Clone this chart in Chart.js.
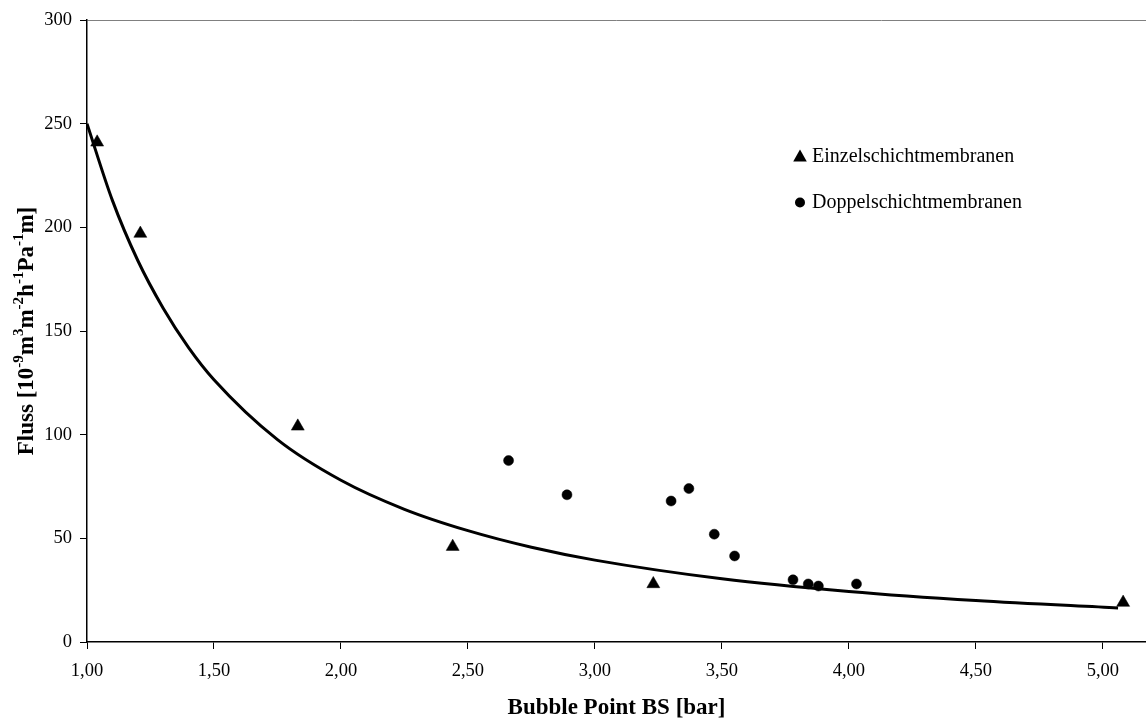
<!DOCTYPE html>
<html>
<head>
<meta charset="utf-8">
<script src="https://cdn.jsdelivr.net/npm/chart.js@4/dist/chart.umd.min.js"></script>
<style>
  html, body { margin: 0; padding: 0; background: #ffffff; }
  #wrap { width: 1146px; height: 720px; }
</style>
</head>
<body>
<div id="wrap"><canvas id="c" width="1146" height="720"></canvas></div>
<script>
// Measured flux against bubble point
const seriesNames = ['Einzelschichtmembranen', 'Doppelschichtmembranen'];

const einzelX = [1.04, 1.21, 1.83, 2.44, 3.23, 5.08];
const einzelY = [241, 197, 104, 46, 28, 19];

const doppelX = [2.66, 2.89, 3.30, 3.37, 3.47, 3.55, 3.78, 3.84, 3.88, 4.03];
const doppelY = [87.5, 71, 68, 74, 52, 41.5, 30, 28, 27, 28];

// Power-law trend curve through all membranes
const trendX = [1.00, 1.10, 1.20, 1.30, 1.40, 1.50, 1.75, 2.00, 2.25, 2.50, 2.75, 3.00, 3.50, 4.00, 4.50, 5.06];
const trendY = [250, 213, 184, 161, 142, 126.5, 97.6, 78, 64, 53.7, 45.7, 39.5, 30.5, 24.4, 20.0, 16.4];

const xTicks = [1.0, 1.5, 2.0, 2.5, 3.0, 3.5, 4.0, 4.5, 5.0];
const yTicks = [0, 50, 100, 150, 200, 250, 300];

const xTitle = 'Bubble Point BS [bar]';
// y title pieces: [text, isSuperscript]
const yTitleParts = [
  ['Fluss [10', false], ['-9', true], ['m', false], ['3', true],
  ['m', false], ['-2', true], ['h', false], ['-1', true],
  ['Pa', false], ['-1', true], ['m]', false]
];

const SERIF = '"Liberation Serif", "Times New Roman", serif';

const toPts = (xs, ys) => xs.map((x, i) => ({ x: x, y: ys[i] }));

// Legend inside the plot and the y-axis title with superscripts
const decorations = {
  id: 'decorations',
  afterDraw(chart) {
    const ctx = chart.ctx;
    const area = chart.chartArea;
    ctx.save();

    // legend
    ctx.fillStyle = '#000';
    ctx.font = '20px ' + SERIF;
    ctx.textBaseline = 'middle';
    ctx.textAlign = 'left';
    const lx = 800, ly1 = 156, ly2 = 202.5;
    ctx.beginPath();
    ctx.moveTo(lx, ly1 - 6.5);
    ctx.lineTo(lx + 6.8, ly1 + 5.5);
    ctx.lineTo(lx - 6.8, ly1 + 5.5);
    ctx.closePath();
    ctx.fill();
    ctx.fillText(seriesNames[0], lx + 12, ly1 + 1);
    ctx.beginPath();
    ctx.arc(lx, ly2, 5, 0, Math.PI * 2);
    ctx.fill();
    ctx.fillText(seriesNames[1], lx + 12, ly2 + 0.5);

    // y axis title
    const baseFont = 'bold 23px ' + SERIF;
    const supFont = 'bold 15px ' + SERIF;
    let total = 0;
    yTitleParts.forEach(([t, sup]) => {
      ctx.font = sup ? supFont : baseFont;
      total += ctx.measureText(t).width;
    });
    ctx.translate(33, (area.top + area.bottom) / 2);
    ctx.rotate(-Math.PI / 2);
    ctx.textBaseline = 'alphabetic';
    let pos = -total / 2;
    yTitleParts.forEach(([t, sup]) => {
      ctx.font = sup ? supFont : baseFont;
      ctx.fillText(t, pos, sup ? -10 : 0);
      pos += ctx.measureText(t).width;
    });
    ctx.restore();
  }
};

new Chart(document.getElementById('c'), {
  type: 'scatter',
  data: {
    datasets: [
      {
        label: seriesNames[0],
        data: toPts(einzelX, einzelY),
        pointStyle: 'triangle',
        pointRadius: 7.5,
        backgroundColor: '#000',
        borderColor: '#000',
        borderWidth: 0.5,
        order: 0
      },
      {
        label: seriesNames[1],
        data: toPts(doppelX, doppelY),
        pointStyle: 'circle',
        pointRadius: 5,
        backgroundColor: '#000',
        borderColor: '#000',
        borderWidth: 0.5,
        order: 0
      },
      {
        label: 'Trend',
        data: toPts(trendX, trendY),
        showLine: true,
        cubicInterpolationMode: 'monotone',
        borderColor: '#000',
        borderWidth: 3,
        pointRadius: 0,
        pointHoverRadius: 0,
        fill: false,
        order: 1
      }
    ]
  },
  options: {
    responsive: false,
    animation: false,
    devicePixelRatio: 1,
    layout: { autoPadding: false, padding: { top: 20, left: 0, right: 0, bottom: 0 } },
    plugins: {
      legend: { display: false },
      tooltip: { enabled: false }
    },
    scales: {
      x: {
        type: 'linear',
        min: 1.0,
        max: 5.17,
        afterBuildTicks: s => { s.ticks = xTicks.map(v => ({ value: v })); },
        afterFit: s => { s.height = 78; },
        border: { display: true, color: '#000', width: 1.5 },
        grid: {
          color: 'rgba(0,0,0,0)',
          drawOnChartArea: false,
          tickColor: '#000',
          tickLength: 7,
          tickWidth: 1
        },
        ticks: {
          color: '#000',
          padding: 11,
          font: { family: SERIF, size: 18.5 },
          callback: v => Number(v).toFixed(2).replace('.', ',')
        },
        title: {
          display: true,
          text: xTitle,
          color: '#000',
          font: { family: SERIF, size: 23, weight: 'bold', lineHeight: 1 },
          padding: { top: 0, bottom: 0 }
        }
      },
      y: {
        min: 0,
        max: 300,
        afterBuildTicks: s => { s.ticks = yTicks.map(v => ({ value: v })); },
        afterFit: s => { s.width = 87; },
        border: { display: true, color: '#000', width: 1.5 },
        grid: {
          color: c => (c.tick && c.tick.value === 300) ? '#808080' : 'rgba(0,0,0,0)',
          lineWidth: 1,
          tickColor: '#000',
          tickLength: 7,
          tickWidth: 1
        },
        ticks: {
          color: '#000',
          padding: 8,
          font: { family: SERIF, size: 18.5 }
        }
      }
    }
  },
  plugins: [decorations]
});
</script>
</body>
</html>
